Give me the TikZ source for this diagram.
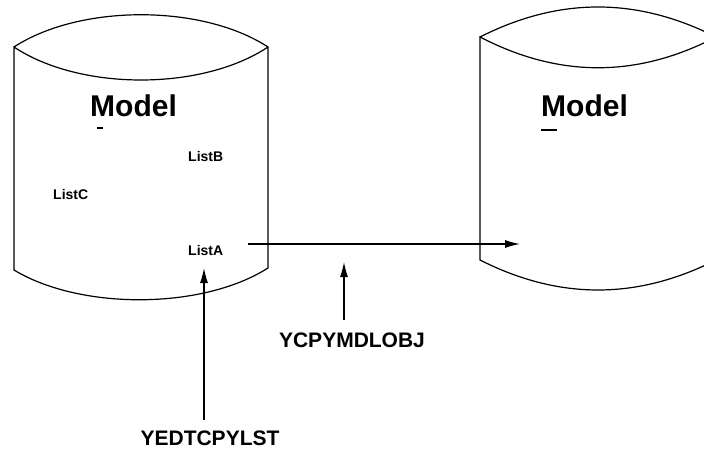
\documentclass[tikz,border=0pt]{standalone}
\usepackage{fontspec}
\setmainfont{Liberation Sans}
\usetikzlibrary{arrows.meta}

\tikzset{
  drum/.style={line width=1.2pt},
  bigname/.style={font=\bfseries\fontsize{30}{30}\selectfont,inner sep=0pt,anchor=base west},
  listname/.style={font=\bfseries\fontsize{14}{14}\selectfont,inner sep=0pt,anchor=base west},
  callname/.style={font=\bfseries\fontsize{21}{21}\selectfont,inner sep=0pt,anchor=base},
  flow/.style={line width=1.2pt,-{Latex[length=15pt,width=8pt]}}
}

\begin{document}
\begin{tikzpicture}[x=1pt,y=-1pt]
\useasboundingbox (0,0) rectangle (704,449);
\clip (0,0) rectangle (704,449);

% left model
\draw[drum] (14,47) .. controls (80,4) and (202,4) .. (268,47)
  .. controls (202,91) and (80,91) .. (14,47) -- (14,270)
  .. controls (80,310) and (202,310) .. (268,268) -- (268,47);
\node[bigname] (modelL) at (90,117) {Model};
\draw[line width=1.2pt] (97,128) -- (103,128);
\node[listname] (listB) at (188,162) {ListB};
\node[listname] (listC) at (53,200) {ListC};
\node[listname] (listA) at (188,255) {ListA};

% right model
\draw[drum] (480,37) .. controls (559,-3) and (637,-3) .. (716,37)
  .. controls (637,78) and (559,78) .. (480,37) -- (480,260)
  .. controls (559,300) and (637,300) .. (716,260) -- (716,37);
\node[bigname] (modelR) at (541,117) {Model};
\draw[line width=1.2pt] (541,130) -- (557,130);

% calls
\node[callname] (cpyobj) at (352,347) {YCPYMDLOBJ};
\node[callname] (edtlst) at (210,445) {YEDTCPYLST};

\coordinate (copyFrom) at (248,244);
\coordinate (copyTo) at (520,244);
\coordinate (objFoot) at (344,320);
\coordinate (objTip) at (344,262);
\coordinate (lstFoot) at (204,420);
\coordinate (lstTip) at (204,268);

\draw[flow] (copyFrom) -- (copyTo);
\draw[flow] (objFoot) -- (objTip);
\draw[flow] (lstFoot) -- (lstTip);

\end{tikzpicture}
\end{document}
